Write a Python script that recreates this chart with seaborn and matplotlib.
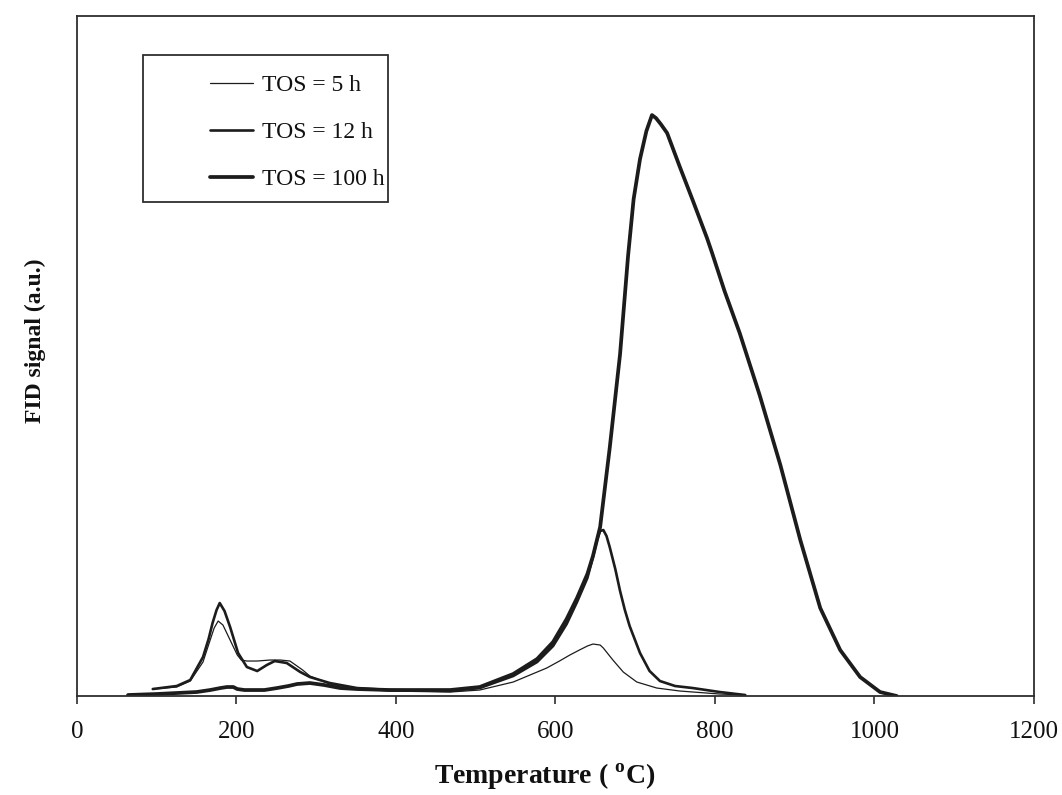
import matplotlib
matplotlib.use("Agg")
import matplotlib.pyplot as plt
import seaborn as sns
from matplotlib.patches import Rectangle

# Temperature-programmed oxidation profiles (FID signal, arbitrary units)
temp_5h = [95, 125, 142, 158, 167, 172, 177, 183, 192, 201, 206, 213, 226, 242, 255,
           267, 283, 292, 317, 351, 392, 468, 505, 547, 577, 589, 605, 618, 630, 640,
           647, 656, 660, 672, 685, 702, 727, 756, 806, 838]
fid_5h = [0.07, 0.09, 0.15, 0.34, 0.56, 0.68, 0.75, 0.71, 0.56, 0.41, 0.36, 0.35, 0.35,
          0.36, 0.36, 0.35, 0.26, 0.20, 0.12, 0.07, 0.05, 0.04, 0.06, 0.14, 0.24, 0.28,
          0.35, 0.41, 0.46, 0.50, 0.52, 0.51, 0.48, 0.36, 0.24, 0.14, 0.08, 0.05, 0.02,
          0.01]

temp_12h = [95, 125, 142, 158, 165, 170, 175, 179, 185, 192, 202, 213, 226, 238, 248,
            263, 280, 292, 317, 351, 392, 468, 505, 547, 577, 597, 614, 627, 640, 647,
            652, 656, 660, 664, 668, 675, 681, 687, 693, 706, 718, 731, 750, 772, 806,
            838]
fid_12h = [0.07, 0.10, 0.16, 0.39, 0.57, 0.73, 0.86, 0.93, 0.85, 0.69, 0.43, 0.29,
           0.25, 0.31, 0.35, 0.33, 0.24, 0.19, 0.13, 0.08, 0.06, 0.05, 0.08, 0.20, 0.34,
           0.50, 0.72, 0.94, 1.18, 1.39, 1.56, 1.65, 1.66, 1.60, 1.49, 1.27, 1.05, 0.86,
           0.70, 0.43, 0.25, 0.15, 0.10, 0.08, 0.04, 0.01]

temp_100h = [64, 100, 125, 150, 167, 180, 188, 196, 201, 210, 217, 235, 251, 265, 276,
             292, 310, 330, 351, 392, 468, 505, 547, 577, 597, 614, 627, 640, 647, 656,
             668, 681, 691, 698, 706, 714, 721, 726, 732, 740, 756, 772, 790, 796, 812,
             831, 856, 882, 907, 932, 957, 982, 1007, 1028]
fid_100h = [0.01, 0.02, 0.03, 0.04, 0.06, 0.08, 0.09, 0.09, 0.07, 0.06, 0.06, 0.06,
            0.08, 0.10, 0.12, 0.13, 0.11, 0.08, 0.07, 0.06, 0.06, 0.09, 0.22, 0.37,
            0.54, 0.77, 0.98, 1.22, 1.40, 1.69, 2.48, 3.42, 4.40, 4.97, 5.37, 5.65,
            5.81, 5.78, 5.72, 5.63, 5.29, 4.96, 4.58, 4.44, 4.05, 3.63, 3.01, 2.31,
            1.56, 0.88, 0.46, 0.19, 0.04, 0.00]

series_labels = ["TOS = 5 h", "TOS = 12 h", "TOS = 100 h"]
x_ticks = [0, 200, 400, 600, 800, 1000, 1200]

sns.set_theme(style="white")
plt.rcParams["font.family"] = ["Liberation Serif", "DejaVu Serif"]
plt.rcParams["mathtext.fontset"] = "custom"
plt.rcParams["mathtext.rm"] = "Liberation Serif"
plt.rcParams["mathtext.bf"] = "Liberation Serif:bold"

fig = plt.figure(figsize=(10.62, 7.95), dpi=100)
ax = fig.add_axes([0.0725, 0.1245, 0.9011, 0.8553])

ink = "#1c1c1c"
frame = "#2e2e2e"
line_widths = [0.9, 1.9, 2.7]
for temps, fid, lab, lw in zip([temp_5h, temp_12h, temp_100h],
                               [fid_5h, fid_12h, fid_100h],
                               series_labels, line_widths):
    sns.lineplot(x=temps, y=fid, ax=ax, color=ink, linewidth=lw, label=lab,
                 sort=False, solid_joinstyle="round", solid_capstyle="round")

ax.set_xlim(0, 1200)
ax.set_ylim(0, 6.8)
ax.set_xticks(x_ticks)
ax.set_xticklabels([str(t) for t in x_ticks])
ax.set_yticks([])
ax.tick_params(axis="x", bottom=True, direction="out", length=6, width=1.2,
               color=frame, labelsize=18, pad=12, labelcolor="#111111")
for side in ["left", "right", "top", "bottom"]:
    ax.spines[side].set_visible(True)
    ax.spines[side].set_color(frame)
    ax.spines[side].set_linewidth(1.3)

ax.set_xlabel(r"Temperature ( $^{\mathbf{o}}$C)", fontsize=20, fontweight="bold",
              color="#111111")
ax.xaxis.set_label_coords(0.489, -0.097)
ax.set_ylabel("FID signal (a.u.)", fontsize=17, fontweight="bold", color="#111111")
ax.yaxis.set_label_coords(-0.032, 0.523)

handles, labels = ax.get_legend_handles_labels()
ax.legend(handles, labels, loc="upper left", bbox_to_anchor=(0.139, 0.914),
          frameon=False, fontsize=17, handlelength=1.82, handletextpad=0.37,
          labelspacing=1.08, borderpad=0, borderaxespad=0, labelcolor="#111111")
ax.add_patch(Rectangle((0.069, 0.7265), 0.256, 0.2161, transform=ax.transAxes,
                       fill=False, ec=frame, lw=1.3, clip_on=False, zorder=5))

fig.savefig("out.png", dpi=100, facecolor="white")
